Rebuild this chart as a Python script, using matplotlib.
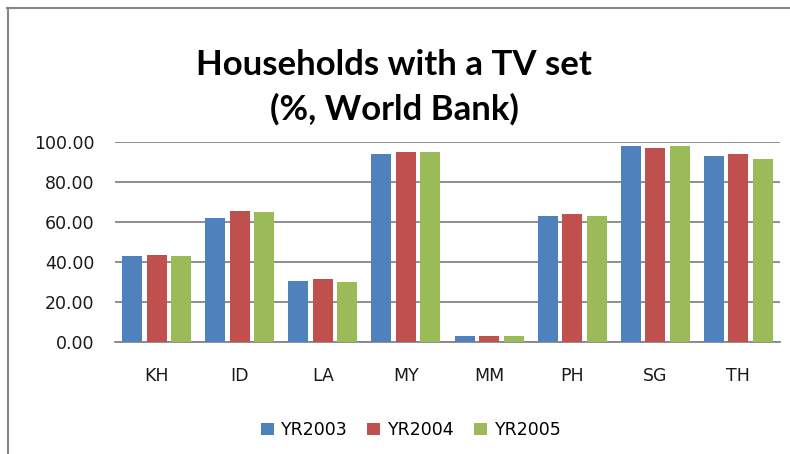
# Households with a TV set, grouped bar chart (World Bank figures).
import numpy as np
import matplotlib.pyplot as plt
from matplotlib.lines import Line2D

# --------------------------- DATA ---------------------------
countries = ['KH', 'ID', 'LA', 'MY', 'MM', 'PH', 'SG', 'TH']
yr2003 = [43.0, 62.0, 30.5, 94.0, 3.0, 63.0, 98.0, 93.0]
yr2004 = [43.5, 65.5, 31.5, 95.0, 3.0, 64.0, 97.0, 94.0]
yr2005 = [43.0, 65.0, 30.0, 95.0, 3.0, 63.0, 98.0, 91.5]
series_names = ['YR2003', 'YR2004', 'YR2005']
y_ticks = [0, 20, 40, 60, 80, 100]

# --------------------------- STYLE ---------------------------
plt.rcParams['font.family'] = ['DejaVu Sans']
colors = ['#4f81bd', '#c0504d', '#9bbb59']
grid_color = '#868686'
W, H = 790, 454

fig = plt.figure(figsize=(W / 100, H / 100), dpi=100)
ax = fig.add_axes([115 / W, 1 - 342 / H, 665 / W, 200 / H])

# --------------------------- PLOT ---------------------------
x = np.arange(len(countries))
step = 0.295
width = 0.24
for i, (vals, name) in enumerate(zip([yr2003, yr2004, yr2005], series_names)):
    ax.bar(x + (i - 1) * step, vals, width=width, color=colors[i], label=name, zorder=3)

ax.set_xlim(-0.5, len(countries) - 0.5)
ax.set_ylim(0, 100)
ax.set_yticks(y_ticks)
ax.set_yticklabels(['%.2f' % v for v in y_ticks])
ax.set_xticks(x)
ax.set_xticklabels(countries)
ax.yaxis.grid(True, color=grid_color, linewidth=1.3, zorder=0)
ax.tick_params(axis='both', length=0, labelsize=12.5, colors='#1a1a1a')
ax.tick_params(axis='y', pad=15)
ax.tick_params(axis='x', pad=18)
for side in ['left', 'right', 'top']:
    ax.spines[side].set_visible(False)
ax.spines['bottom'].set_color(grid_color)
ax.spines['bottom'].set_linewidth(1.3)

# Title, two lines placed on their baselines.
fig.text(394 / W, 1 - 75 / H, 'Households with a TV set', ha='center', va='baseline',
         fontsize=25, fontweight='bold', family=['Lato', 'DejaVu Sans'])
fig.text(394 / W, 1 - 120 / H, '(%, World Bank)', ha='center', va='baseline',
         fontsize=25, fontweight='bold', family=['Lato', 'DejaVu Sans'])

# Legend along the bottom.
fig.legend(loc='center', bbox_to_anchor=(411 / W, 1 - 430 / H), ncol=3, frameon=False,
           fontsize=12.5, handlelength=0.75, handleheight=0.75, handletextpad=0.45, columnspacing=1.1)

# Chart border: only the top and left edges show.
fig.lines.append(Line2D([7 / W, 1], [1 - 8 / H, 1 - 8 / H], transform=fig.transFigure,
                        color=grid_color, linewidth=1.5))
fig.lines.append(Line2D([8 / W, 8 / W], [1 - 8 / H, 0], transform=fig.transFigure,
                        color=grid_color, linewidth=1.5))

fig.savefig('out.png', dpi=100)
